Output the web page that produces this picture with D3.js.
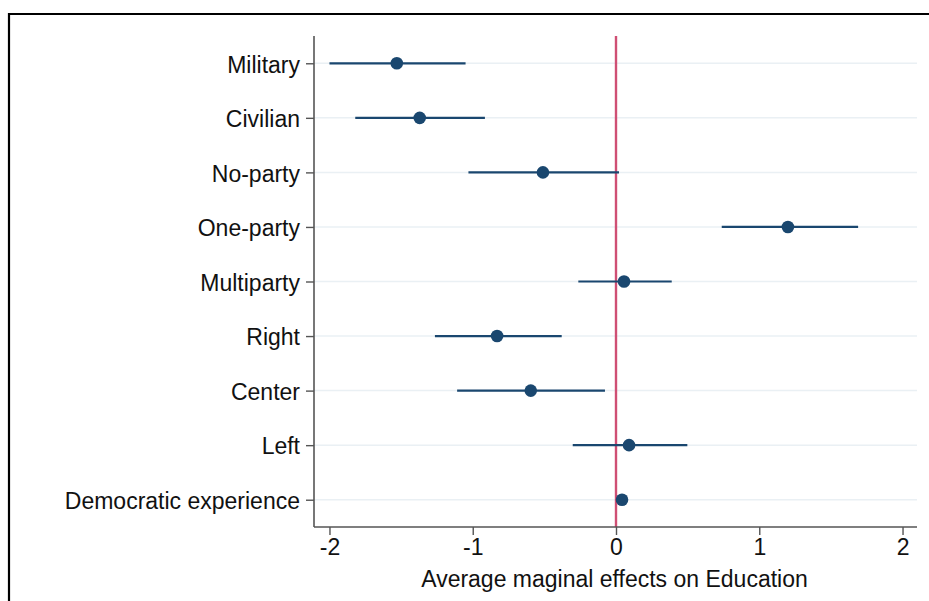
<!DOCTYPE html>
<html>
<head>
<meta charset="utf-8">
<script src="https://cdn.jsdelivr.net/npm/d3@7"></script>
<style>
  html, body { margin: 0; padding: 0; background: #fff; }
  svg { display: block; font-family: "Liberation Sans", Arial, Helvetica, sans-serif; }
</style>
</head>
<body>
<svg id="chart" width="929" height="601"></svg>
<script>
// Regime-type categories, top to bottom
const categories = ["Military", "Civilian", "No-party", "One-party", "Multiparty",
                    "Right", "Center", "Left", "Democratic experience"];
// Average marginal effects and 95% confidence bounds
const estimates = [-1.53, -1.37, -0.51, 1.20, 0.056, -0.83, -0.595, 0.091, 0.042];
const lower     = [-2.00, -1.82, -1.03, 0.738, -0.263, -1.264, -1.109, -0.302, 0.01];
const upper     = [-1.05, -0.915, 0.021, 1.69, 0.389, -0.379, -0.077, 0.498, 0.075];
const xTicks = [-2, -1, 0, 1, 2];
const xTitle = "Average maginal effects on Education";

const svg = d3.select("#chart");
const plot = { left: 314, right: 917, top: 36, bottom: 527 };
const fontSize = 23;

const x = d3.scaleLinear().domain([-2.108, 2.101]).range([plot.left, plot.right]);
const y = d3.scalePoint().domain(categories).range([plot.top, plot.bottom]).padding(0.5);

const navy = "#1a476f";

// outer frame
svg.append("path")
  .attr("d", "M9,601 V14 H929")
  .attr("fill", "none").attr("stroke", "#000").attr("stroke-width", 2.2);

// horizontal gridlines
svg.append("g").selectAll("line").data(categories).join("line")
  .attr("x1", plot.left).attr("x2", plot.right)
  .attr("y1", d => y(d)).attr("y2", d => y(d))
  .attr("stroke", "#eaf0f4").attr("stroke-width", 1.5);

// zero reference line
svg.append("line")
  .attr("x1", x(0)).attr("x2", x(0))
  .attr("y1", plot.top).attr("y2", plot.bottom)
  .attr("stroke", "#cf4f74").attr("stroke-width", 2.4);

// y axis
const yAxis = svg.append("g").attr("transform", `translate(${plot.left},0)`)
  .call(d3.axisLeft(y).tickSize(8).tickPadding(6));
yAxis.select(".domain").attr("d", `M0,${plot.top}V${plot.bottom}`)
  .attr("stroke", "#555").attr("stroke-width", 1.6);
yAxis.selectAll(".tick line").attr("stroke", "#555").attr("stroke-width", 1.4);
yAxis.selectAll(".tick text").attr("font-size", fontSize).attr("fill", "#111")
  .attr("font-family", "'Liberation Sans', Arial, sans-serif")
  .attr("dy", "0.38em");

// x axis
const xAxis = svg.append("g").attr("transform", `translate(0,${plot.bottom})`)
  .call(d3.axisBottom(x).tickValues(xTicks).tickFormat(d3.format("d")).tickSize(8).tickPadding(4));
xAxis.select(".domain").attr("d", `M${plot.left},0H${plot.right}`)
  .attr("stroke", "#555").attr("stroke-width", 1.6);
xAxis.selectAll(".tick line").attr("stroke", "#555").attr("stroke-width", 1.4);
xAxis.selectAll(".tick text").attr("font-size", fontSize).attr("fill", "#111")
  .attr("font-family", "'Liberation Sans', Arial, sans-serif")
  .text(d => d < 0 ? "-" + Math.abs(d) : d);

// x axis title
svg.append("text")
  .attr("x", (plot.left + plot.right) / 2 - 1).attr("y", 587)
  .attr("text-anchor", "middle").attr("font-size", fontSize).attr("fill", "#111")
  .text(xTitle);

// confidence intervals
const rows = categories.map((c, i) => ({ c, est: estimates[i], lo: lower[i], hi: upper[i] }));
svg.append("g").selectAll("line").data(rows).join("line")
  .attr("x1", d => x(d.lo)).attr("x2", d => x(d.hi))
  .attr("y1", d => y(d.c)).attr("y2", d => y(d.c))
  .attr("stroke", navy).attr("stroke-width", 2.2);

// point estimates
svg.append("g").selectAll("circle").data(rows).join("circle")
  .attr("cx", d => x(d.est)).attr("cy", d => y(d.c))
  .attr("r", 6.3).attr("fill", navy);
</script>
</body>
</html>
